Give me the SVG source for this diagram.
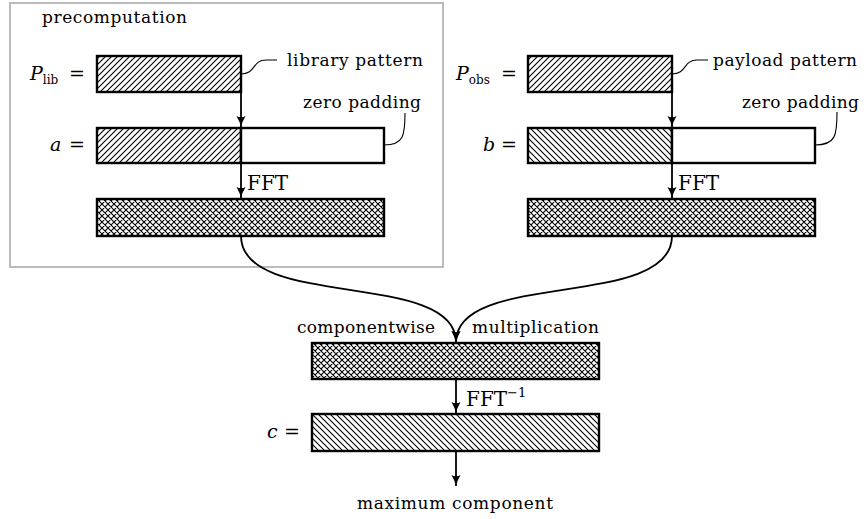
<svg xmlns="http://www.w3.org/2000/svg" width="864" height="519" viewBox="0 0 864 519">
<style>
text{font-family:"DejaVu Serif","Liberation Serif",serif;font-size:17px;fill:#000}
.m{font-size:19px}
.it{font-style:italic}
.sub{font-size:12px}
.fft{font-size:20px}
.box{stroke:#000;stroke-width:2.4;}
.ln{fill:none;stroke:#000;stroke-width:1.8}
.lead{fill:none;stroke:#000;stroke-width:1.1}
</style>
<defs>
<pattern id="ne" patternUnits="userSpaceOnUse" width="6" height="6">
<path d="M0,6 L6,0 M-1,1 L1,-1 M5,7 L7,5" stroke="#000" stroke-width="1.1"/>
</pattern>
<pattern id="nw" patternUnits="userSpaceOnUse" width="6" height="6">
<path d="M0,0 L6,6 M-1,5 L1,7 M5,-1 L7,1" stroke="#000" stroke-width="1.1"/>
</pattern>
<pattern id="cross" patternUnits="userSpaceOnUse" width="6" height="6">
<path d="M0,6 L6,0 M-1,1 L1,-1 M5,7 L7,5 M0,0 L6,6 M-1,5 L1,7 M5,-1 L7,1" stroke="#000" stroke-width="1.1"/>
</pattern>
<marker id="arr" markerWidth="12" markerHeight="12" refX="11" refY="6" orient="auto" markerUnits="userSpaceOnUse">
<path d="M0,1.5 Q6,5 11,6 Q6,7 0,10.5 Q2.5,6 0,1.5 Z" fill="#000"/>
</marker>
</defs>
<rect id="frame" x="10" y="3" width="433" height="264" fill="none" stroke="#bbb" stroke-width="2"/>
<text x="42" y="23" textLength="145">precomputation</text>
<g id="plib">
<rect class="box" x="97" y="56" width="144" height="36" fill="url(#ne)"/>
<text class="m" x="30" y="80"><tspan class="it">P</tspan><tspan class="sub" dy="4">lib</tspan><tspan dy="-4" x="69">=</tspan></text>
</g>
<g id="a">
<rect class="box" x="97" y="128" width="144" height="35" fill="url(#ne)"/>
<rect class="box" x="241" y="128" width="143" height="35" fill="#fff"/>
<text class="m" x="50" y="151"><tspan class="it">a</tspan><tspan x="69">=</tspan></text>
</g>
<g id="fa">
<rect class="box" x="97" y="199" width="287" height="37" fill="url(#cross)"/>
</g>
<g id="pobs">
<rect class="box" x="528" y="56" width="144" height="36" fill="url(#ne)"/>
<text class="m" x="456" y="80"><tspan class="it">P</tspan><tspan class="sub" dy="4">obs</tspan><tspan dy="-4" x="501">=</tspan></text>
</g>
<g id="b">
<rect class="box" x="528" y="128" width="144" height="35" fill="url(#nw)"/>
<rect class="box" x="672" y="128" width="143" height="35" fill="#fff"/>
<text class="m" x="483" y="151"><tspan class="it">b</tspan><tspan x="501">=</tspan></text>
</g>
<g id="fb">
<rect class="box" x="528" y="199" width="287" height="37" fill="url(#cross)"/>
</g>
<g id="mult">
<rect class="box" x="312" y="343" width="287" height="36" fill="url(#cross)"/>
</g>
<g id="c">
<rect class="box" x="312" y="414" width="287" height="37" fill="url(#nw)"/>
<text class="m" x="267" y="438"><tspan class="it">c</tspan><tspan x="284">=</tspan></text>
</g>
<g id="labels">
<text x="287" y="66" textLength="136">library pattern</text>
<text x="303" y="108" textLength="118">zero padding</text>
<text x="713" y="66" textLength="144">payload pattern</text>
<text x="742" y="108" textLength="117">zero padding</text>
<text class="fft" x="247" y="190">FFT</text>
<text class="fft" x="678" y="190">FFT</text>
<text class="fft" x="466" y="406">FFT<tspan font-size="13" dy="-9">−1</tspan></text>
<text x="297" y="333" textLength="138">componentwise</text>
<text x="472" y="333" textLength="127">multiplication</text>
<text x="357" y="509" textLength="196">maximum component</text>
</g>
<g id="connectors">
<path class="ln" d="M241,92 L241,127" marker-end="url(#arr)"/>
<path class="ln" d="M241,163 L241,198" marker-end="url(#arr)"/>
<path class="ln" d="M672,92 L672,127" marker-end="url(#arr)"/>
<path class="ln" d="M672,163 L672,198" marker-end="url(#arr)"/>
<path class="ln" d="M241,236 C241,310 456,270 456,342" marker-end="url(#arr)"/>
<path class="ln" d="M672,236 C672,310 456,270 456,342" marker-end="url(#arr)"/>
<path class="ln" d="M456,379 L456,413" marker-end="url(#arr)"/>
<path class="ln" d="M456,451 L456,486" marker-end="url(#arr)"/>
<path class="lead" d="M241,74 C256,74 252,60 266,60 L277,60"/>
<path class="lead" d="M384,145 C404,145 405,135 405,113"/>
<path class="lead" d="M672,74 C687,74 683,60 697,60 L708,60"/>
<path class="lead" d="M815,145 C836,145 837,135 837,112"/>
</g>
</svg>
